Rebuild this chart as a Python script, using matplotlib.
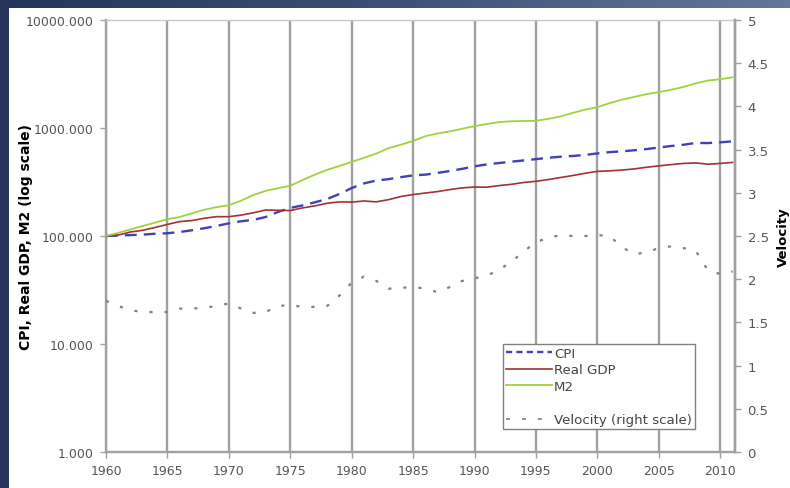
import numpy as np
import matplotlib
matplotlib.use('Agg')
import matplotlib.pyplot as plt
from matplotlib.lines import Line2D
from matplotlib.patches import Rectangle

plt.rcParams['font.family'] = ['DejaVu Sans']

years = list(range(1960, 2012))

# index, 1960 = 100
cpi = [100, 101, 102, 103, 105, 106, 109, 113, 118, 124,
       131, 137, 141, 150, 167, 182, 192, 205, 220, 245,
       278, 307, 326, 336, 351, 364, 370, 384, 400, 419,
       442, 460, 474, 488, 501, 515, 530, 542, 551, 563,
       582, 598, 608, 622, 638, 660, 681, 700, 727, 725,
       737, 752]
real_gdp = [100, 102, 109, 113, 120, 128, 136, 139, 146, 151,
            151, 156, 164, 174, 173, 172, 182, 190, 201, 207,
            206, 211, 207, 217, 232, 242, 250, 258, 269, 279,
            284, 283, 293, 301, 313, 321, 333, 348, 363, 381,
            397, 401, 408, 418, 433, 446, 458, 470, 475, 462,
            470, 480]
m2 = [100, 107, 115, 124, 133, 143, 150, 162, 175, 185,
      193, 212, 240, 262, 277, 292, 330, 370, 410, 445,
      485, 530, 580, 650, 700, 760, 840, 890, 930, 985,
      1040, 1090, 1135, 1155, 1160, 1165, 1215, 1280, 1380, 1480,
      1560, 1700, 1830, 1940, 2060, 2150, 2260, 2400, 2590, 2750,
      2830, 2950]
velocity = [1.75, 1.69, 1.64, 1.62, 1.62, 1.62, 1.66, 1.66, 1.67, 1.69,
            1.72, 1.66, 1.61, 1.62, 1.69, 1.70, 1.68, 1.68, 1.69, 1.81,
            1.96, 2.03, 1.98, 1.89, 1.90, 1.91, 1.89, 1.85, 1.91, 1.98,
            2.01, 2.04, 2.11, 2.20, 2.32, 2.43, 2.48, 2.51, 2.50, 2.50,
            2.51, 2.50, 2.37, 2.29, 2.31, 2.36, 2.38, 2.36, 2.33, 2.10,
            2.06, 2.09]

left_ticks = [1, 10, 100, 1000, 10000]
right_ticks = [0, 0.5, 1, 1.5, 2, 2.5, 3, 3.5, 4, 4.5, 5]
x_ticks = list(range(1960, 2011, 5))

grid_col = '#a0a0a0'
tick_col = '#555555'
cpi_col = '#4040b8'
gdp_col = '#a33232'
m2_col = '#a0d23c'
vel_col = '#7f7f7f'

fig = plt.figure(figsize=(7.9, 4.89), dpi=100)
fig.patch.set_facecolor('white')

# dark slide frame: gradient band on top, strip on the left
band = fig.add_axes([0, 1 - 9 / 489, 1, 9 / 489])
grad = np.linspace(0, 1, 256).reshape(1, -1)
cmap = matplotlib.colors.LinearSegmentedColormap.from_list('band', ['#24355a', '#3f5078', '#66759c'])
band.imshow(grad, aspect='auto', cmap=cmap, extent=[0, 1, 0, 1])
band.set_axis_off()
fig.patches.append(Rectangle((0, 0), 9 / 790, 1, transform=fig.transFigure,
                             facecolor='#25365a', edgecolor='none', zorder=5))

ax = fig.add_axes([106 / 790, 36 / 489, 629 / 790, 432 / 489])
ax.set_yscale('log')
ax.set_ylim(1, 10000)
ax.set_xlim(1960, 2011.2)

ax.plot(years, cpi, color=cpi_col, lw=1.7, dashes=(5, 3), zorder=3)
ax.plot(years, real_gdp, color=gdp_col, lw=1.2, zorder=3)
ax.plot(years, m2, color=m2_col, lw=1.3, zorder=3)

ax.set_xticks(x_ticks)
ax.set_xticklabels([str(y) for y in x_ticks])
ax.set_yticks(left_ticks)
ax.set_yticklabels(['%.3f' % v for v in left_ticks])
ax.yaxis.set_minor_locator(matplotlib.ticker.NullLocator())
ax.grid(axis='x', color=grid_col, lw=1.7, zorder=1)
ax.grid(axis='y', visible=False)
ax.tick_params(axis='both', labelsize=9, labelcolor=tick_col, color=grid_col,
               length=4, width=1, pad=5)
ax.set_ylabel('CPI, Real GDP, M2 (log scale)', fontsize=10, fontweight='bold')
ax.yaxis.set_label_coords(-0.116, 0.5)

for side in ['left', 'bottom', 'right']:
    ax.spines[side].set_color(grid_col)
    ax.spines[side].set_linewidth(1.7)
ax.spines['top'].set_color('#c8c8c8')
ax.spines['top'].set_linewidth(1)

ax2 = ax.twinx()
ax2.set_ylim(0, 5)
ax2.plot(years, velocity, color=vel_col, lw=1.6, dashes=(1.4, 5.4), zorder=3)
ax2.set_yticks(right_ticks)
ax2.set_yticklabels(['%g' % v for v in right_ticks])
ax2.tick_params(axis='y', labelsize=9.5, labelcolor=tick_col, color=grid_col,
                length=4, width=1, pad=5)
ax2.set_ylabel('Velocity', fontsize=9.5, fontweight='bold')
ax2.yaxis.set_label_coords(1.066, 0.5)
ax2.spines['right'].set_color(grid_col)
ax2.spines['right'].set_linewidth(1.7)
ax2.spines['top'].set_visible(False)
ax2.spines['left'].set_visible(False)
ax2.spines['bottom'].set_visible(False)

handles = [
    Line2D([], [], color=cpi_col, lw=1.7, dashes=(2.6, 1.8)),
    Line2D([], [], color=gdp_col, lw=1.2),
    Line2D([], [], color=m2_col, lw=1.3),
    Line2D([], [], color='none'),
    Line2D([], [], color=vel_col, lw=1.2, dashes=(2.5, 7)),
]
labels = ['CPI', 'Real GDP', 'M2', ' ', 'Velocity (right scale)']
leg = ax2.legend(handles, labels, loc='lower left', bbox_to_anchor=(0.631, 0.053),
                 borderaxespad=0, fontsize=9.6, frameon=True, fancybox=False,
                 handlelength=3.5, handletextpad=0.15, labelspacing=0.28,
                 borderpad=0.2, edgecolor='#808080', framealpha=1)
leg.get_frame().set_linewidth(1)
for t in leg.get_texts():
    t.set_color('#444444')

fig.savefig('out.png', dpi=100)
